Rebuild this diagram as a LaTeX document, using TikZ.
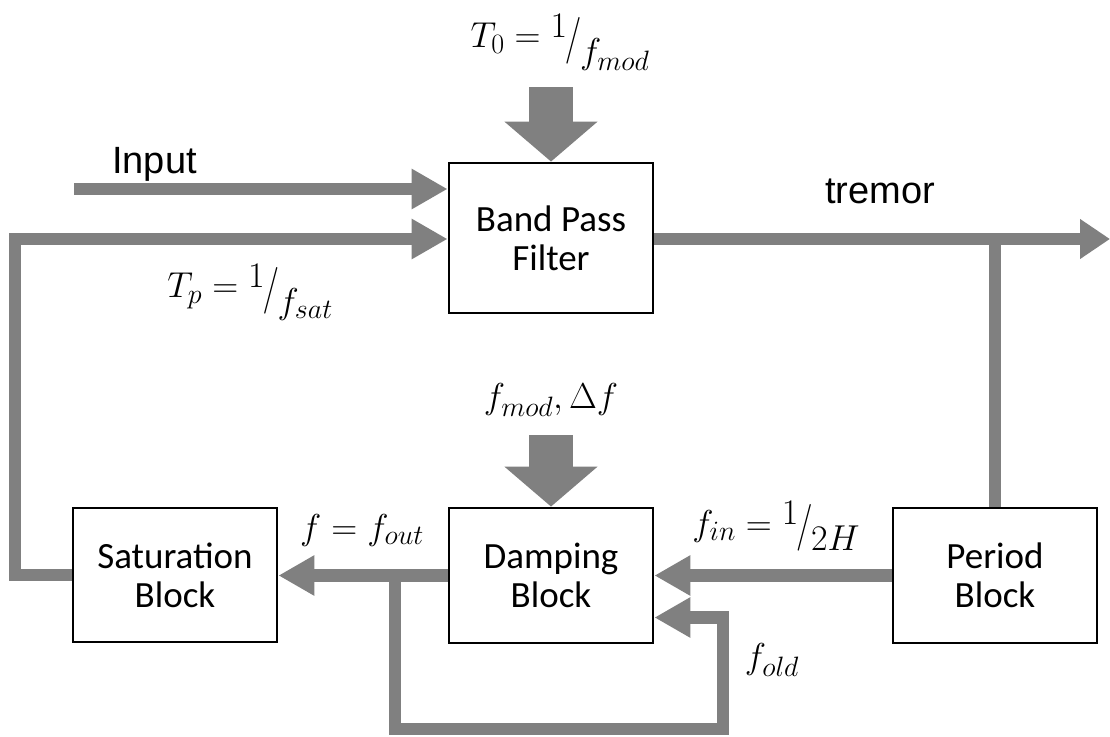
\RequirePackage{fix-cm}
\documentclass[tikz,border=0pt]{standalone}
\usepackage{fontspec}
\newfontfamily\blockfont{Carlito}
\newfontfamily\labelfont{Liberation Sans}
\usetikzlibrary{arrows.meta,calc}
\definecolor{flowgray}{RGB}{128,128,128}
\DeclareMathSizes{36}{36}{28}{21}
% skewed "a/b" fraction with raised numerator and lowered denominator
\newcommand{\skewfrac}[2]{\raisebox{0.3em}{$#1$}\kern-0.06em\raisebox{-0.12em}{\scalebox{1}[1.3]{$/$}}\kern-0.04em\raisebox{-0.42em}{$#2$}}
\begin{document}
\begin{tikzpicture}[x=1pt,y=-1pt]
\tikzset{
  block/.style={draw=black, line width=2.8pt, fill=white, minimum width=204pt,
    align=center, inner sep=0pt, font=\blockfont\fontsize{37}{39}\selectfont},
  flow/.style={draw=flowgray, line width=12.5pt},
  flowarrow/.style={flow, -{Triangle[length=36pt,width=38pt]}},
  bigarrow/.style={draw=flowgray, line width=44pt, -{Triangle[length=40pt,width=91pt]}},
  mathlabel/.style={inner sep=0pt, font=\fontsize{36}{42}\selectfont},
  textlabel/.style={inner sep=0pt, font=\labelfont\fontsize{38}{40}\selectfont},
}
\fill[white] (0,0) rectangle (1110,736);
\useasboundingbox (0,0) rectangle (1110,736);

% blocks
\node[block, minimum height=150pt] (bpf) at (551,238) {Band Pass\\Filter};
\node[block, minimum height=134pt] (sat) at (175,575) {Saturation\\Block};
\node[block, minimum height=135pt] (damp) at (551,575.5) {Damping\\Block};
\node[block, minimum height=135pt] (period) at (995,575.5) {Period\\Block};

% labels
\node[mathlabel] (t0) at (560,42) {$T_0 = \skewfrac{1}{f_{mod}}$};
\node[textlabel, anchor=base west] (inlab) at (112,173) {Input};
\node[textlabel, anchor=base west] (trlab) at (825,203) {tremor};
\node[mathlabel] (tp) at (250,292) {$T_p = \skewfrac{1}{f_{sat}}$};
\node[mathlabel] (fmod) at (551,400) {$f_{mod}, \Delta f$};
\node[mathlabel] (fout) at (362,530) {$f = f_{out}$};
\node[mathlabel] (fin) at (776,526) {$f_{in} = \skewfrac{1}{2H}$};
\node[mathlabel] (fold) at (772,660) {$f_{old}$};

% connector points
\coordinate (inStart) at (74,189);
\coordinate (fbCorner) at (15,239);
\coordinate (trEnd) at (1110,239);
\coordinate (trTap) at (995,239);
\coordinate (t0Start) at (551,87);
\coordinate (dmStart) at (551,435);
\coordinate (loopTap) at (395,576);
\coordinate (loopCorner) at (723,729);
\coordinate (oldIn) at ($(damp.east)+(0,42)$);

% thick parameter arrows
\draw[bigarrow] (t0Start) -- (bpf.north);
\draw[bigarrow] (dmStart) -- (damp.north);

% signal flow
\draw[flowarrow] (inStart) -- (inStart -| bpf.west);
\draw[flowarrow] (sat.west) -| (fbCorner) -- (fbCorner -| bpf.west);
\draw[flow, -{Triangle[length=30pt,width=38pt]}] (bpf.east |- trEnd) -- (trEnd);
\draw[flow] (trTap) -- (period.north);
\draw[flowarrow] (period.west) -- (damp.east |- period.west);
\draw[flowarrow] (damp.west) -- (sat.east |- damp.west);
\draw[flowarrow] (loopTap) |- (loopCorner) |- (oldIn);
\end{tikzpicture}
\end{document}
